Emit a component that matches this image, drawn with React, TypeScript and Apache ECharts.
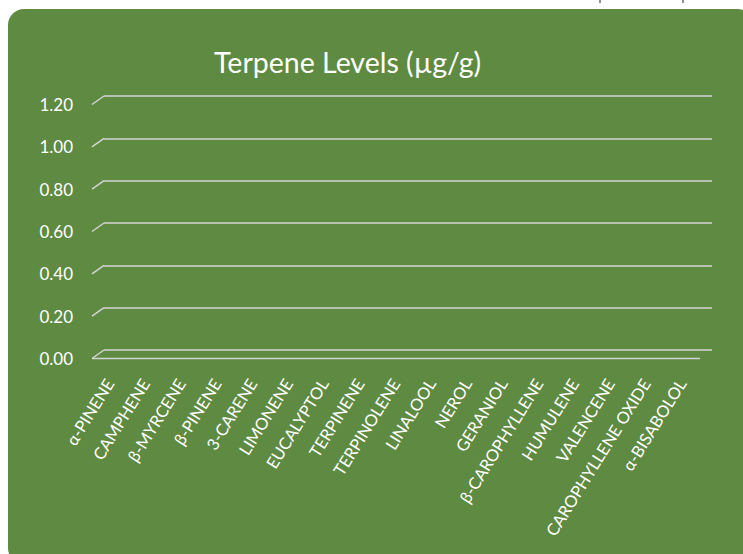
import React, { useEffect, useRef } from "react";
import * as echarts from "echarts";

const categories = [
  "α-PINENE", "CAMPHENE", "β-MYRCENE", "β-PINENE", "3-CARENE", "LIMONENE",
  "EUCALYPTOL", "TERPINENE", "TERPINOLENE", "LINALOOL", "NEROL", "GERANIOL",
  "β-CAROPHYLLENE", "HUMULENE", "VALENCENE", "CAROPHYLLENE OXIDE", "α-BISABOLOL",
];
const terpeneValues = [0, 0, 0, 0, 0, 0, 0, 0, 0, 0, 0, 0, 0, 0, 0, 0, 0];
const yTicks = [0, 0.2, 0.4, 0.6, 0.8, 1.0, 1.2];

const GREEN = "#5E8A42";
const GRID_COLOR = "#D4D4D4";
const DX = 12;
const DY = 8.5;

export default function App() {
  const ref = useRef<HTMLDivElement>(null);
  useEffect(() => {
    if (!ref.current) return;
    const chart = echarts.init(ref.current, undefined, { renderer: "svg" });
    const font = "Lato, 'Open Sans', sans-serif";
    chart.setOption({
      animation: false,
      backgroundColor: "#FFFFFF",
      graphic: [
        {
          type: "rect",
          shape: { x: 8, y: 9, width: 745, height: 555, r: 16 },
          style: { fill: GREEN },
          z: -10,
        },
        { type: "line", shape: { x1: 600, y1: 0, x2: 600, y2: 3 }, style: { stroke: "#222", lineWidth: 1 } },
        { type: "line", shape: { x1: 683, y1: 0, x2: 683, y2: 3 }, style: { stroke: "#222", lineWidth: 1 } },
      ],
      title: {
        text: "Terpene Levels (µg/g)",
        left: 209,
        top: 42,
        textStyle: { color: "#FFFFFF", fontFamily: font, fontSize: 28.5, fontWeight: "normal" },
      },
      grid: [
        { left: 104, right: 31, top: 96, bottom: 204 },
        { left: 104 - DX, right: 31 + DX, top: 96 + DY, bottom: 204 - DY },
      ],
      xAxis: [
        {
          type: "category",
          gridIndex: 0,
          data: categories,
          show: false,
        },
        {
          type: "category",
          gridIndex: 1,
          data: categories,
          axisLine: { show: false },
          axisTick: { show: false },
          axisLabel: {
            interval: 0,
            rotate: 58,
            margin: 22,
            color: "#FFFFFF",
            fontFamily: font,
            fontSize: 16.5,
          },
        },
      ],
      yAxis: [
        {
          type: "value",
          gridIndex: 0,
          min: 0,
          max: 1.2,
          interval: 0.2,
          axisLine: { show: false },
          axisTick: { show: false },
          axisLabel: { show: false },
          splitLine: { lineStyle: { color: GRID_COLOR, width: 1.5 } },
        },
        {
          type: "value",
          gridIndex: 1,
          min: 0,
          max: 1.2,
          interval: 0.2,
          axisLine: { show: false },
          axisTick: { show: false },
          splitLine: { show: false },
          axisLabel: {
            margin: 19,
            color: "#FFFFFF",
            fontFamily: font,
            fontSize: 17,
            formatter: (v: number) => v.toFixed(2),
          },
        },
      ],
      series: [
        {
          type: "custom",
          xAxisIndex: 0,
          yAxisIndex: 0,
          data: yTicks.map((v) => [0, v]),
          encode: { x: 0, y: 1 },
          silent: true,
          renderItem: (params: any, api: any) => {
            const v = api.value(1);
            const y = api.coord([0, v])[1];
            const cs = params.coordSys;
            const x = cs.x;
            const style = { stroke: GRID_COLOR, lineWidth: 1.5 };
            const children: any[] = [
              { type: "line", shape: { x1: x - DX, y1: y + DY, x2: x, y2: y }, style },
            ];
            if (v === 0) {
              children.push({
                type: "line",
                shape: { x1: x - DX, y1: y + DY, x2: x - DX + cs.width, y2: y + DY },
                style,
              });
            }
            return { type: "group", children };
          },
        },
        {
          type: "bar",
          name: "Terpene Levels (µg/g)",
          xAxisIndex: 1,
          yAxisIndex: 1,
          data: terpeneValues,
          itemStyle: { color: "#A9D18E" },
        },
      ],
    });
    return () => chart.dispose();
  }, []);
  return (
    <div
      ref={ref}
      style={{ position: "fixed", left: 0, top: 0, width: 743, height: 554 }}
    />
  );
}
